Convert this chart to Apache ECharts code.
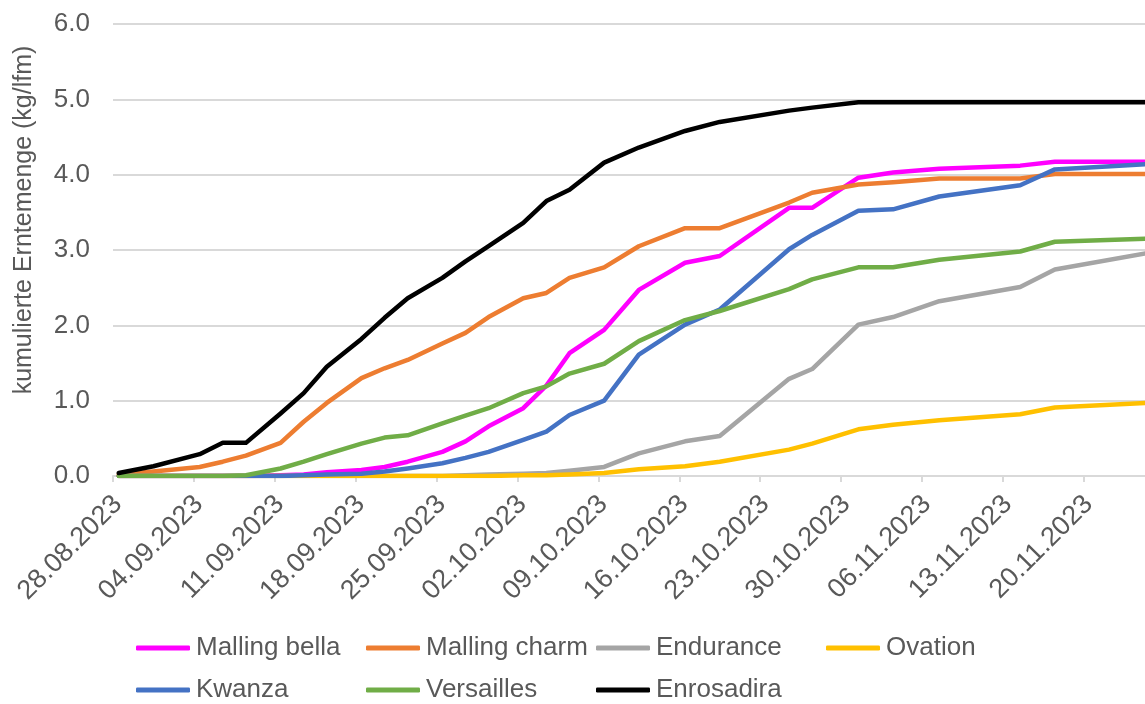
<!DOCTYPE html>
<html>
<head>
<meta charset="utf-8">
<script src="https://cdn.jsdelivr.net/npm/echarts@6/dist/echarts.min.js"></script>
<style>
  html, body { margin: 0; padding: 0; background: #ffffff; }
  #chart { width: 1145px; height: 704px; }
</style>
</head>
<body>
<div id="chart"></div>
<script>
// Harvest dates (dd.mm.yyyy)
const dates = ["28.08.2023","31.08.2023","04.09.2023","06.09.2023","08.09.2023","11.09.2023","13.09.2023","15.09.2023",
  "18.09.2023","20.09.2023","22.09.2023","25.09.2023","27.09.2023","29.09.2023","02.10.2023","04.10.2023","06.10.2023",
  "09.10.2023","12.10.2023","16.10.2023","19.10.2023","25.10.2023","27.10.2023","31.10.2023","03.11.2023","07.11.2023",
  "14.11.2023","17.11.2023","25.11.2023"];

const seriesNames = ["Malling bella","Malling charm","Endurance","Ovation","Kwanza","Versailles","Enrosadira"];
const seriesColors = ["#FF00FF","#ED7D31","#A5A5A5","#FFC000","#4472C4","#70AD47","#000000"];

const mallingBella = [0,0,0,0,0,0.01,0.02,0.05,0.08,0.12,0.19,0.32,0.46,0.66,0.90,1.20,1.63,1.94,2.47,2.83,2.92,3.56,3.56,3.96,4.03,4.08,4.12,4.17,4.17];
const mallingCharm = [0.02,0.06,0.12,0.19,0.27,0.44,0.72,0.97,1.30,1.43,1.54,1.76,1.90,2.11,2.36,2.43,2.63,2.77,3.05,3.29,3.29,3.63,3.76,3.87,3.90,3.95,3.95,4.01,4.01];
const endurance    = [0,0,0,0,0,0,0,0,0,0,0,0,0.01,0.02,0.03,0.04,0.07,0.12,0.30,0.46,0.53,1.29,1.42,2.01,2.11,2.32,2.51,2.74,2.96];
const ovation      = [0,0,0,0,0,0,0,0,0,0,0,0,0,0,0.01,0.01,0.02,0.04,0.09,0.13,0.19,0.35,0.43,0.62,0.68,0.74,0.82,0.91,0.97];
const kwanza       = [0,0,0,0,0,0,0.01,0.02,0.03,0.06,0.10,0.17,0.24,0.32,0.48,0.59,0.81,1.00,1.61,2.01,2.21,3.01,3.20,3.52,3.54,3.71,3.86,4.07,4.14];
const versailles   = [0,0,0,0,0.01,0.10,0.19,0.29,0.43,0.51,0.54,0.70,0.80,0.90,1.10,1.19,1.36,1.49,1.79,2.07,2.19,2.48,2.61,2.77,2.77,2.87,2.98,3.11,3.15];
const enrosadira   = [0.04,0.13,0.29,0.44,0.44,0.83,1.10,1.45,1.82,2.10,2.36,2.63,2.85,3.05,3.36,3.65,3.80,4.16,4.36,4.58,4.70,4.85,4.89,4.96,4.96,4.96,4.96,4.96,4.96];

const yTicks = [0,1,2,3,4,5,6];
const axisStart = "28.08.2023";

const allValues = [mallingBella, mallingCharm, endurance, ovation, kwanza, versailles, enrosadira];

function parseDate(s) {
  const p = s.split(".");
  return Date.UTC(+p[2], +p[1] - 1, +p[0]);
}
const DAY = 86400000;
const base = parseDate(axisStart);
// Each date occupies a day cell; points sit in the middle of their day (date axis "between tick marks").
const xPos = dates.map(d => (parseDate(d) - base) / DAY + 0.5);

function fmtDate(v) {
  const dt = new Date(base + Math.round(v) * DAY);
  const dd = String(dt.getUTCDate()).padStart(2, "0");
  const mm = String(dt.getUTCMonth() + 1).padStart(2, "0");
  return dd + "." + mm + "." + dt.getUTCFullYear();
}

const FONT = "'Liberation Sans', Arial, Helvetica, sans-serif";
const TXT = "#595959";
const GRID = "#D9D9D9";

const series = seriesNames.map((name, i) => ({
  name: name,
  type: "line",
  data: xPos.map((x, j) => [x, allValues[i][j]]),
  showSymbol: false,
  symbol: "none",
  clip: true,
  lineStyle: { color: seriesColors[i], width: 4.5, join: "round", cap: "round" },
  itemStyle: { color: seriesColors[i] },
  emphasis: { disabled: true }
}));

// Legend laid out in a 4-column grid, 2 rows (as in the original)
const legendPos = [
  [136, 635], [366, 635], [596, 635], [826, 635],
  [136, 677], [366, 677], [596, 677]
];
const legends = seriesNames.map((name, i) => ({
  data: [name],
  left: legendPos[i][0],
  top: legendPos[i][1],
  padding: 0,
  icon: "roundRect",
  itemWidth: 54,
  itemHeight: 5,
  itemGap: 0,
  textStyle: { fontFamily: FONT, fontSize: 26, color: TXT, padding: [0, 0, 0, 1] },
  selectedMode: false
}));

const chart = echarts.init(document.getElementById("chart"), null, { renderer: "canvas" });
chart.setOption({
  animation: false,
  backgroundColor: "#ffffff",
  grid: { left: 113, right: 0, top: 24, bottom: 228, containLabel: false },
  legend: legends,
  xAxis: {
    type: "value",
    min: 0,
    max: 89.3,
    interval: 7,
    axisLine: { show: true, lineStyle: { color: GRID, width: 2 } },
    axisTick: { show: true, length: 6, lineStyle: { color: GRID, width: 2 } },
    splitLine: { show: false },
    axisLabel: {
      rotate: 45,
      margin: 29,
      padding: [0, -7, 0, 0],
      fontFamily: FONT,
      fontSize: 27,
      color: TXT,
      showMaxLabel: false,
      formatter: v => fmtDate(v)
    }
  },
  yAxis: {
    type: "value",
    min: yTicks[0],
    max: yTicks[yTicks.length - 1],
    interval: 1,
    name: "kumulierte Erntemenge (kg/lfm)",
    nameLocation: "middle",
    nameGap: 76,
    nameTextStyle: { fontFamily: FONT, fontSize: 25, color: TXT, padding: [0, 0, 0, 60] },
    axisLine: { show: false },
    axisTick: { show: false },
    splitLine: { show: true, lineStyle: { color: GRID, width: 2 } },
    axisLabel: {
      margin: 23,
      fontFamily: FONT,
      fontSize: 26,
      color: TXT,
      formatter: v => v.toFixed(1)
    }
  },
  series: series
});
</script>
</body>
</html>
